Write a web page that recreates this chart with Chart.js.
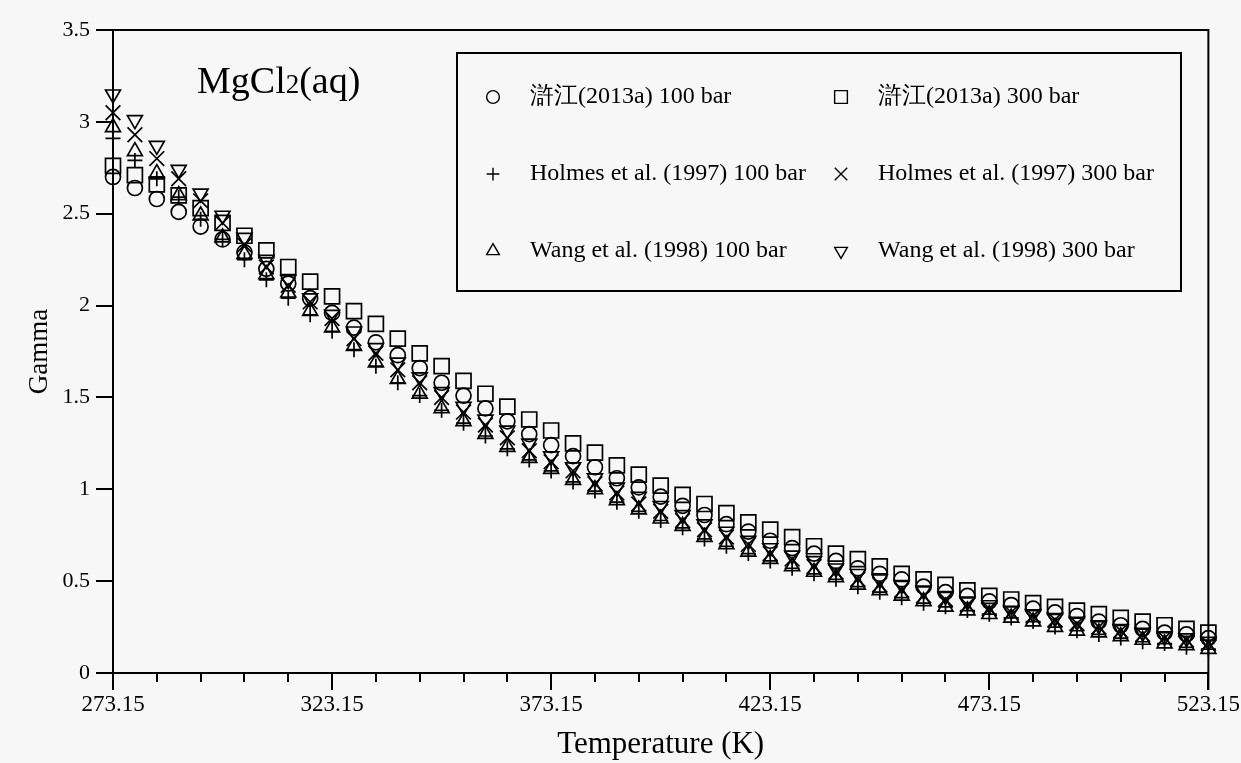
<!DOCTYPE html>
<html>
<head>
<meta charset="utf-8">
<script src="https://cdn.jsdelivr.net/npm/chart.js"></script>
<style>
    html, body { margin: 0; padding: 0; background: #f7f7f7; }
    #wrap { width: 1241px; height: 763px; position: relative; }
</style>
</head>
<body>
<div id="wrap"><canvas id="gammaChart"></canvas></div>
<script>
// ── Data ─────────────────────────────────────────────────────────────
const temps = [
    273.15, 278.15, 283.15, 288.15, 293.15, 298.15, 303.15, 308.15, 313.15, 318.15,
    323.15, 328.15, 333.15, 338.15, 343.15, 348.15, 353.15, 358.15, 363.15, 368.15,
    373.15, 378.15, 383.15, 388.15, 393.15, 398.15, 403.15, 408.15, 413.15, 418.15,
    423.15, 428.15, 433.15, 438.15, 443.15, 448.15, 453.15, 458.15, 463.15, 468.15,
    473.15, 478.15, 483.15, 488.15, 493.15, 498.15, 503.15, 508.15, 513.15, 518.15,
    523.15
];

const hu100 = [
    2.70, 2.64, 2.58, 2.51, 2.43, 2.36, 2.29, 2.20, 2.12, 2.04,
    1.96, 1.88, 1.80, 1.73, 1.66, 1.58, 1.51, 1.44, 1.37, 1.30,
    1.24, 1.18, 1.12, 1.06, 1.01, 0.96, 0.91, 0.86, 0.81, 0.77,
    0.72, 0.68, 0.65, 0.61, 0.57, 0.54, 0.51, 0.47, 0.44, 0.42,
    0.39, 0.37, 0.35, 0.33, 0.31, 0.28, 0.26, 0.24, 0.22, 0.21,
    0.19
];
const hu300 = [
    2.76, 2.71, 2.66, 2.60, 2.53, 2.45, 2.38, 2.30, 2.21, 2.13,
    2.05, 1.97, 1.90, 1.82, 1.74, 1.67, 1.59, 1.52, 1.45, 1.38,
    1.32, 1.25, 1.20, 1.13, 1.08, 1.02, 0.97, 0.92, 0.87, 0.82,
    0.78, 0.74, 0.69, 0.65, 0.62, 0.58, 0.54, 0.51, 0.48, 0.45,
    0.42, 0.40, 0.38, 0.36, 0.34, 0.32, 0.30, 0.28, 0.26, 0.24,
    0.22
];
const holmes100 = [
    2.91, 2.79, 2.69, 2.59, 2.47, 2.36, 2.25, 2.14, 2.04, 1.95,
    1.86, 1.76, 1.67, 1.58, 1.51, 1.43, 1.36, 1.29, 1.22, 1.16,
    1.10, 1.04, 0.99, 0.93, 0.88, 0.83, 0.79, 0.73, 0.69, 0.65,
    0.61, 0.57, 0.54, 0.51, 0.47, 0.44, 0.41, 0.38, 0.36, 0.34,
    0.32, 0.30, 0.28, 0.25, 0.23, 0.21, 0.19, 0.17, 0.16, 0.14,
    0.13
];
const holmes300 = [
    3.05, 2.93, 2.80, 2.69, 2.57, 2.45, 2.33, 2.21, 2.11, 2.02,
    1.93, 1.82, 1.74, 1.65, 1.58, 1.50, 1.42, 1.35, 1.28, 1.21,
    1.15, 1.10, 1.03, 0.98, 0.92, 0.88, 0.83, 0.78, 0.74, 0.70,
    0.65, 0.62, 0.58, 0.55, 0.51, 0.48, 0.45, 0.42, 0.40, 0.37,
    0.35, 0.33, 0.31, 0.29, 0.27, 0.25, 0.23, 0.21, 0.19, 0.18,
    0.16
];
const wang100 = [
    2.97, 2.84, 2.72, 2.60, 2.49, 2.37, 2.28, 2.17, 2.07, 1.97,
    1.88, 1.78, 1.69, 1.60, 1.52, 1.44, 1.37, 1.30, 1.23, 1.17,
    1.11, 1.05, 1.00, 0.94, 0.89, 0.84, 0.80, 0.74, 0.70, 0.66,
    0.62, 0.58, 0.55, 0.52, 0.48, 0.45, 0.42, 0.39, 0.36, 0.34,
    0.32, 0.30, 0.28, 0.25, 0.23, 0.22, 0.20, 0.18, 0.16, 0.15,
    0.13
];
const wang300 = [
    3.15, 3.01, 2.87, 2.74, 2.61, 2.49, 2.37, 2.25, 2.14, 2.04,
    1.95, 1.86, 1.77, 1.69, 1.61, 1.53, 1.45, 1.38, 1.32, 1.25,
    1.18, 1.12, 1.06, 1.01, 0.96, 0.91, 0.86, 0.81, 0.77, 0.72,
    0.68, 0.64, 0.61, 0.57, 0.54, 0.51, 0.48, 0.45, 0.42, 0.39,
    0.37, 0.34, 0.32, 0.30, 0.28, 0.26, 0.24, 0.22, 0.20, 0.19,
    0.17
];

const xMajorTicks = [273.15, 323.15, 373.15, 423.15, 473.15, 523.15];
const xMinorTicks = [
    283.15, 293.15, 303.15, 313.15, 333.15, 343.15, 353.15, 363.15,
    383.15, 393.15, 403.15, 413.15, 433.15, 443.15, 453.15, 463.15,
    483.15, 493.15, 503.15, 513.15
];

const seriesLabels = [
    '滸江(2013a) 100 bar', '滸江(2013a) 300 bar',
    'Holmes et al. (1997) 100 bar', 'Holmes et al. (1997) 300 bar',
    'Wang et al. (1998) 100 bar', 'Wang et al. (1998) 300 bar'
];

// ── Styles ───────────────────────────────────────────────────────────
const SERIF = "'Liberation Serif', 'Times New Roman', serif";
const markers = [
    { pointStyle: 'circle', radius: 7.5, rotation: 0 },
    { pointStyle: 'rect', radius: 10.6, rotation: 0 },
    { pointStyle: 'cross', radius: 7.5, rotation: 0 },
    { pointStyle: 'crossRot', radius: 10.4, rotation: 0 },
    { pointStyle: 'triangle', radius: 8.6, rotation: 0 },
    { pointStyle: 'triangle', radius: 8.6, rotation: 180 }
];
const seriesValues = [hu100, hu300, holmes100, holmes300, wang100, wang300];

const datasets = seriesValues.map((vals, i) => ({
    label: seriesLabels[i],
    data: temps.map((t, k) => ({ x: t, y: vals[k] })),
    showLine: false,
    clip: false,
    pointStyle: markers[i].pointStyle,
    pointRadius: markers[i].radius,
    pointRotation: markers[i].rotation,
    pointBackgroundColor: 'rgba(0,0,0,0)',
    pointBorderColor: '#000',
    pointBorderWidth: 1.7
}));

// ── Decorations: frame, minor ticks, title, legend box ───────────────
const decorations = {
    id: 'decorations',
    afterDraw(chart) {
        const ctx = chart.ctx;
        const area = chart.chartArea;
        const xs = chart.scales.x;
        ctx.save();
        ctx.strokeStyle = '#000';
        ctx.lineWidth = 2;

        // top and right frame lines
        ctx.beginPath();
        ctx.moveTo(area.left, area.top);
        ctx.lineTo(area.right, area.top);
        ctx.lineTo(area.right, area.bottom + 17);
        ctx.stroke();

        // minor ticks
        ctx.beginPath();
        xMinorTicks.forEach(v => {
            const px = Math.round(xs.getPixelForValue(v));
            ctx.moveTo(px, area.bottom);
            ctx.lineTo(px, area.bottom + 9);
        });
        ctx.stroke();

        // title MgCl2(aq)
        ctx.fillStyle = '#000';
        ctx.textBaseline = 'alphabetic';
        ctx.textAlign = 'left';
        let tx = 197;
        const ty = 93;
        ctx.font = `38px ${SERIF}`;
        ctx.fillText('MgCl', tx, ty);
        tx += ctx.measureText('MgCl').width;
        ctx.font = `27px ${SERIF}`;
        ctx.fillText('2', tx, ty);
        tx += ctx.measureText('2').width;
        ctx.font = `38px ${SERIF}`;
        ctx.fillText('(aq)', tx, ty);

        // legend box
        ctx.lineWidth = 2;
        ctx.strokeRect(457, 53, 724, 238);
        const colX = [493, 841];
        const rowY = [97, 174, 251];
        ctx.font = `24px ${SERIF}`;
        ctx.textBaseline = 'middle';
        seriesLabels.forEach((label, i) => {
            const mx = colX[i % 2];
            const my = rowY[Math.floor(i / 2)];
            ctx.save();
            ctx.strokeStyle = '#000';
            ctx.fillStyle = 'rgba(0,0,0,0)';
            ctx.lineWidth = 1.4;
            Chart.helpers.drawPoint(ctx, {
                pointStyle: markers[i].pointStyle,
                rotation: markers[i].rotation,
                radius: markers[i].radius * 0.85,
                borderWidth: 1.4
            }, mx, my);
            ctx.restore();
            ctx.fillStyle = '#000';
            ctx.fillText(label, mx + 37, my);
        });
        ctx.restore();
    }
};

// ── Chart ────────────────────────────────────────────────────────────
const ctx = document.getElementById('gammaChart').getContext('2d');
const chart = new Chart(ctx, {
    type: 'scatter',
    data: { datasets },
    options: {
        responsive: true,
        maintainAspectRatio: false,
        animation: false,
        events: [],
        layout: { padding: { left: 0, top: 30, right: 32, bottom: 0 } },
        plugins: {
            legend: { display: false },
            tooltip: { enabled: false }
        },
        scales: {
            x: {
                type: 'linear',
                min: 273.15,
                max: 523.15,
                afterBuildTicks: scale => {
                    scale.ticks = xMajorTicks.map(v => ({ value: v }));
                },
                afterFit: scale => { scale.height = 90; },
                ticks: {
                    autoSkip: false,
                    maxRotation: 0,
                    padding: 1,
                    color: '#000',
                    font: { family: SERIF, size: 23 },
                    callback: v => Number(v).toFixed(2)
                },
                grid: {
                    drawOnChartArea: false,
                    color: '#000',
                    lineWidth: 2,
                    tickLength: 17
                },
                border: { display: true, color: '#000', width: 2 },
                title: {
                    display: true,
                    text: 'Temperature (K)',
                    color: '#000',
                    font: { family: SERIF, size: 31 },
                    padding: { top: 0, bottom: 0 }
                }
            },
            y: {
                min: 0,
                max: 3.5,
                afterFit: scale => { scale.width = 113; },
                ticks: {
                    stepSize: 0.5,
                    padding: 6,
                    color: '#000',
                    font: { family: SERIF, size: 22 },
                    callback: v => String(Number(v))
                },
                grid: {
                    drawOnChartArea: false,
                    color: '#000',
                    lineWidth: 2,
                    tickLength: 17
                },
                border: { display: true, color: '#000', width: 2 },
                title: {
                    display: true,
                    text: 'Gamma',
                    color: '#000',
                    font: { family: SERIF, size: 27 },
                    padding: { top: 24, bottom: 0 }
                }
            }
        }
    },
    plugins: [decorations]
});
</script>
</body>
</html>
